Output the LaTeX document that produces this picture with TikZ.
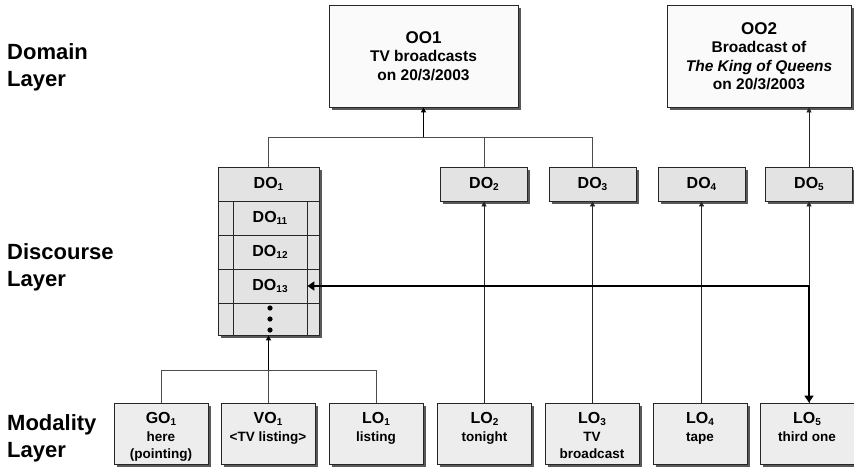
\documentclass[tikz,border=0pt]{standalone}
\usepackage{fontspec}
\setmainfont{Liberation Sans}
\usetikzlibrary{arrows.meta,shadows}
\newcommand\sbs[1]{\raisebox{-2.5pt}{\fontsize{10}{10}\selectfont #1}}
\tikzset{
  shad/.style={drop shadow={shadow xshift=2.5pt, shadow yshift=-2.5pt, fill=black!65, opacity=1}},
  box/.style={rectangle, draw=black!85, line width=0.8pt, inner sep=0pt, shad},
  oobox/.style={box, fill=black!2, minimum height=102pt, align=center, font=\bfseries\fontsize{15.5}{18.5}\selectfont},
  dobox/.style={box, fill=black!11, minimum width=87pt, minimum height=34pt, font=\bfseries\fontsize{16}{18}\selectfont},
  cell/.style={rectangle, draw=black!85, line width=0.8pt, inner sep=0pt, fill=black!11, minimum width=74pt, minimum height=34pt, font=\bfseries\fontsize{16}{18}\selectfont},
  mbox/.style={box, fill=black!7, minimum width=94pt, minimum height=61pt},
  mtext/.style={anchor=north, align=center, inner sep=0pt, font=\bfseries\fontsize{13.5}{17}\selectfont},
  layer/.style={anchor=north west, align=left, inner sep=0pt, font=\bfseries\fontsize{22}{27}\selectfont},
  thin/.style={draw=black!70, line width=0.8pt},
  thinarr/.style={draw=black!85, line width=0.8pt, -{Triangle[length=5pt,width=5pt]}},
  trunk/.style={draw=black, line width=1.3pt, -{Triangle[length=5pt,width=5pt]}},
  thickarr/.style={draw=black, line width=2.5pt, line join=miter, {Triangle[length=7pt,width=9pt]}-{Triangle[length=7pt,width=9pt]}}
}
\newcommand\ttl[1]{{\fontsize{16}{18}\selectfont #1}}
\begin{document}
\begin{tikzpicture}[x=1pt,y=-1pt]
\useasboundingbox (0,0) rectangle (854,467);
% layer labels
\node[layer] (Ldom) at (7,43) {Domain\\Layer};
\node[layer] (Ldis) at (7,243) {Discourse\\Layer};
\node[layer] (Lmod) at (7,414) {Modality\\Layer};
% domain layer
\node[oobox, minimum width=189pt] (OO1) at (423.5,56) {{\fontsize{17}{18.5}\selectfont OO1}\\TV broadcasts\\on 20/3/2003};
\node[oobox, minimum width=184pt] (OO2) at (759,56) {{\fontsize{17}{18.5}\selectfont OO2}\\Broadcast of\\\textit{The King of Queens}\\on 20/3/2003};
% discourse layer
\node[box, fill=black!11, minimum width=101pt, minimum height=168pt] (DO1box) at (268.5,251) {};
\node[rectangle, draw=black!85, line width=0.8pt, inner sep=0pt, minimum width=101pt, minimum height=34pt, font=\bfseries\fontsize{16}{18}\selectfont] (DO1) at (268.5,184) {DO\sbs{1}};
\node[cell] (DO11) at (270,218) {DO\sbs{11}};
\node[cell] (DO12) at (270,252) {DO\sbs{12}};
\node[cell] (DO13) at (270,286) {DO\sbs{13}};
\node[cell, minimum height=32pt] (DOd) at (270,319) {};
\draw[black!85, line width=0.8pt] (DO1box.west |- DO11.south) -- (DO1box.east |- DO11.south)
  (DO1box.west |- DO12.south) -- (DO1box.east |- DO12.south)
  (DO1box.west |- DO13.south) -- (DO1box.east |- DO13.south);
\foreach \d in {-11,0,11} \fill ([yshift=\d pt]DOd.center) circle (2.6pt);
\node[dobox] (DO2) at (484,184) {DO\sbs{2}};
\node[dobox] (DO3) at (592.5,184) {DO\sbs{3}};
\node[dobox] (DO4) at (701.5,184) {DO\sbs{4}};
\node[dobox] (DO5) at (809,184) {DO\sbs{5}};
% modality layer
\node[mbox] (GO1) at (161,433.5) {};
\node[mbox] (VO1) at (268,433.5) {};
\node[mbox] (LO1) at (376,433.5) {};
\node[mbox] (LO2) at (484.5,433.5) {};
\node[mbox] (LO3) at (592,433.5) {};
\node[mbox] (LO4) at (700,433.5) {};
\node[mbox] (LO5) at (807,433.5) {};
\node[mtext] (GO1t) at ([yshift=-9.5pt]GO1.north) {\ttl{GO\sbs{1}}\\[1pt]here\\(pointing)};
\node[mtext] (VO1t) at ([yshift=-9.5pt]VO1.north) {\ttl{VO\sbs{1}}\\[1pt]<TV listing>};
\node[mtext] (LO1t) at ([yshift=-9.5pt]LO1.north) {\ttl{LO\sbs{1}}\\[1pt]listing};
\node[mtext] (LO2t) at ([yshift=-9.5pt]LO2.north) {\ttl{LO\sbs{2}}\\[1pt]tonight};
\node[mtext] (LO3t) at ([yshift=-9.5pt]LO3.north) {\ttl{LO\sbs{3}}\\[1pt]TV\\broadcast};
\node[mtext] (LO4t) at ([yshift=-9.5pt]LO4.north) {\ttl{LO\sbs{4}}\\[1pt]tape};
\node[mtext] (LO5t) at ([yshift=-9.5pt]LO5.north) {\ttl{LO\sbs{5}}\\[1pt]third one};
% connectors: discourse -> domain
\coordinate (j1) at (423.5,137);
\draw[thin] (DO1box.north) |- (j1);
\draw[thin] (DO2.north) |- (j1);
\draw[thin] (DO3.north) |- (j1);
\draw[trunk] (j1) -- (OO1.south);
\draw[thinarr] (DO5.north) -- (DO5.north |- OO2.south);
% connectors: modality -> discourse
\coordinate (j2) at (268.5,370);
\draw[thin] (GO1.north) |- (j2);
\draw[thin] (LO1.north) |- (j2);
\draw[thin] (j2 |- VO1.north) -- (j2);
\draw[trunk] (j2) -- (DO1box.south);
\draw[thinarr] (DO2.south |- LO2.north) -- (DO2.south);
\draw[thinarr] (DO3.south |- LO3.north) -- (DO3.south);
\draw[thinarr] (DO4.south |- LO4.north) -- (DO4.south);
\draw[thinarr] (DO5.south |- LO5.north) -- (DO5.south);
% thick reference arrow
\coordinate (k) at (DO5.south |- DO13.east);
\draw[thickarr] (DO13.east) -- (k) -- (DO5.south |- LO5.north);
\end{tikzpicture}
\end{document}
